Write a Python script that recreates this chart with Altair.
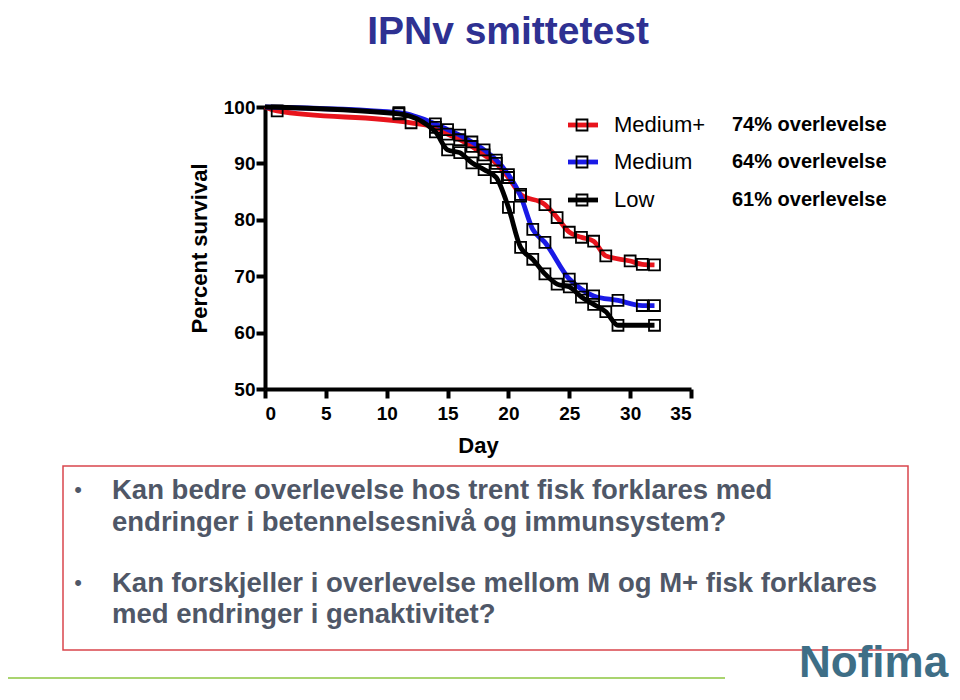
import altair as alt
import pandas as pd

TITLE = "IPNv smittetest"
SERIES = ["Medium+", "Medium", "Low"]
COLORS = ["#e8141c", "#1a1ae6", "#000000"]
SURVIVAL = ["74% overlevelse", "64% overlevelse", "61% overlevelse"]

MEDIUM_PLUS_DAY = [0, 1, 12, 14, 15, 16, 17, 18, 19, 20, 21, 23, 24, 25, 26, 27, 28, 30, 31, 32]
MEDIUM_PLUS_PCT = [100, 99.3, 97.2, 96.4, 95.2, 94.2, 93.0, 91.5, 90.0, 87.5, 84.5, 82.7, 80.4, 77.8, 76.9, 76.2, 73.6, 72.7, 72.1, 72.0]

MEDIUM_DAY = [0, 11, 14, 15, 16, 17, 18, 19, 20, 21, 22, 23, 25, 26, 27, 29, 31, 32]
MEDIUM_PCT = [100, 99.0, 97.0, 96.0, 95.0, 93.8, 92.4, 90.6, 88.0, 84.2, 78.3, 76.0, 69.5, 67.7, 66.5, 65.7, 64.8, 64.8]

LOW_DAY = [0, 11, 14, 15, 16, 17, 18, 19, 20, 21, 22, 23, 24, 25, 26, 27, 28, 29, 32]
LOW_PCT = [100, 98.8, 95.6, 92.4, 91.9, 90.1, 88.9, 87.5, 82.2, 75.1, 73.0, 70.4, 68.6, 68.1, 66.3, 65.0, 63.7, 61.3, 61.3]

X_TICKS = [0, 5, 10, 15, 20, 25, 30, 35]
Y_TICKS = [50, 60, 70, 80, 90, 100]

BULLET_LINES = [
    ["Kan bedre overlevelse hos trent fisk forklares med",
     "endringer i betennelsesnivå og immunsystem?"],
    ["Kan forskjeller i overlevelse mellom M og M+ fisk forklares",
     "med endringer i genaktivitet?"],
]
LOGO_TEXT = "Nofima"

FONT = "Liberation Sans"
W, H = 426, 282

rows = []
for name, days, pcts in zip(SERIES, [MEDIUM_PLUS_DAY, MEDIUM_DAY, LOW_DAY],
                            [MEDIUM_PLUS_PCT, MEDIUM_PCT, LOW_PCT]):
    for i, (d, p) in enumerate(zip(days, pcts)):
        rows.append({"series": name, "day": d, "pct": p, "order": i, "marker": d > 0})
df = pd.DataFrame(rows)

x_enc = alt.X("day:Q", scale=alt.Scale(domain=[0, 35], nice=False),
              axis=alt.Axis(values=X_TICKS, title="Day", grid=False,
                            domainWidth=4, domainColor="black",
                            tickWidth=4, tickSize=9, tickColor="black",
                            labelFont=FONT, labelFontSize=19, labelFontWeight="bold",
                            labelColor="black", labelPadding=6,
                            titleFont=FONT, titleFontSize=22, titleFontWeight="bold",
                            titleColor="black", titlePadding=12))
y_enc = alt.Y("pct:Q", scale=alt.Scale(domain=[50, 100], nice=False, zero=False),
              axis=alt.Axis(values=Y_TICKS, title="Percent survival", grid=False,
                            domainWidth=4, domainColor="black",
                            tickWidth=4, tickSize=9, tickColor="black",
                            labelFont=FONT, labelFontSize=19, labelFontWeight="bold",
                            labelColor="black", labelPadding=1,
                            titleFont=FONT, titleFontSize=22, titleFontWeight="bold",
                            titleColor="black", titlePadding=12))

layers = []
for name, col in zip(SERIES, COLORS):
    layers.append(
        alt.Chart(df).transform_filter(alt.datum.series == name)
        .mark_line(interpolate="monotone", strokeWidth=4.8, color=col)
        .encode(x=x_enc, y=y_enc, order="order:Q")
    )

layers.append(
    alt.Chart(df).transform_filter("datum.marker")
    .mark_point(shape="square", filled=False, size=120, strokeWidth=1.8, color="black", opacity=1)
    .encode(x=x_enc, y=y_enc)
)

one = pd.DataFrame({"k": [0]})

# Title
layers.append(
    alt.Chart(one).mark_text(text=TITLE, font=FONT, fontSize=39, fontWeight="bold",
                             color="#2e3192", align="center", baseline="alphabetic")
    .encode(x=alt.value(243), y=alt.value(-63))
)

# Custom legend
LEG_Y = [18, 55, 93]
for name, col, surv, yy in zip(SERIES, COLORS, SURVIVAL, LEG_Y):
    layers.append(alt.Chart(one).mark_rule(color=col, strokeWidth=4.8)
                  .encode(x=alt.value(303), x2=alt.value(333), y=alt.value(yy)))
    layers.append(alt.Chart(one).mark_point(shape="square", filled=False, size=120,
                                            strokeWidth=1.8, color="black", opacity=1)
                  .encode(x=alt.value(317), y=alt.value(yy)))
    layers.append(alt.Chart(one).mark_text(text=name, font=FONT, fontSize=22, color="black",
                                           align="left", baseline="middle")
                  .encode(x=alt.value(349), y=alt.value(yy)))
    layers.append(alt.Chart(one).mark_text(text=surv, font=FONT, fontSize=20, fontWeight="bold",
                                           color="black", align="left", baseline="middle")
                  .encode(x=alt.value(467), y=alt.value(yy)))

# Bottom box
layers.append(alt.Chart(one).mark_rect(fillOpacity=0, stroke="#d9464c", strokeWidth=1.5)
              .encode(x=alt.value(-202), x2=alt.value(643), y=alt.value(359), y2=alt.value(543)))

TEXT_Y = [[392, 424], [485, 516]]
for lines, ys in zip(BULLET_LINES, TEXT_Y):
    layers.append(alt.Chart(one).mark_text(text="•", font=FONT, fontSize=22, color="#4f5767",
                                           align="center", baseline="alphabetic")
                  .encode(x=alt.value(-187), y=alt.value(ys[0] - 2)))
    for ln, yy in zip(lines, ys):
        layers.append(alt.Chart(one).mark_text(text=ln, font=FONT, fontSize=27.5, fontWeight="bold",
                                               color="#4f5767", align="left", baseline="alphabetic")
                      .encode(x=alt.value(-153), y=alt.value(yy)))

# Footer line and logo
layers.append(alt.Chart(one).mark_rule(color="#8cc63f", strokeWidth=1.5)
              .encode(x=alt.value(-257), x2=alt.value(460), y=alt.value(571)))
layers.append(alt.Chart(one).mark_text(text=LOGO_TEXT, font=FONT, fontSize=44, fontWeight="bold",
                                       color="#3e6e86", align="left", baseline="alphabetic")
              .encode(x=alt.value(534), y=alt.value(570)))

chart = alt.layer(*layers).properties(
    width=W, height=H,
    padding={"left": 257, "top": 99, "right": 261, "bottom": 296},
    autosize=alt.AutoSizeParams(type="none"),
    background="white",
).configure_view(stroke=None)

chart.save("out.html", embed_options={"renderer": "svg", "actions": False})
